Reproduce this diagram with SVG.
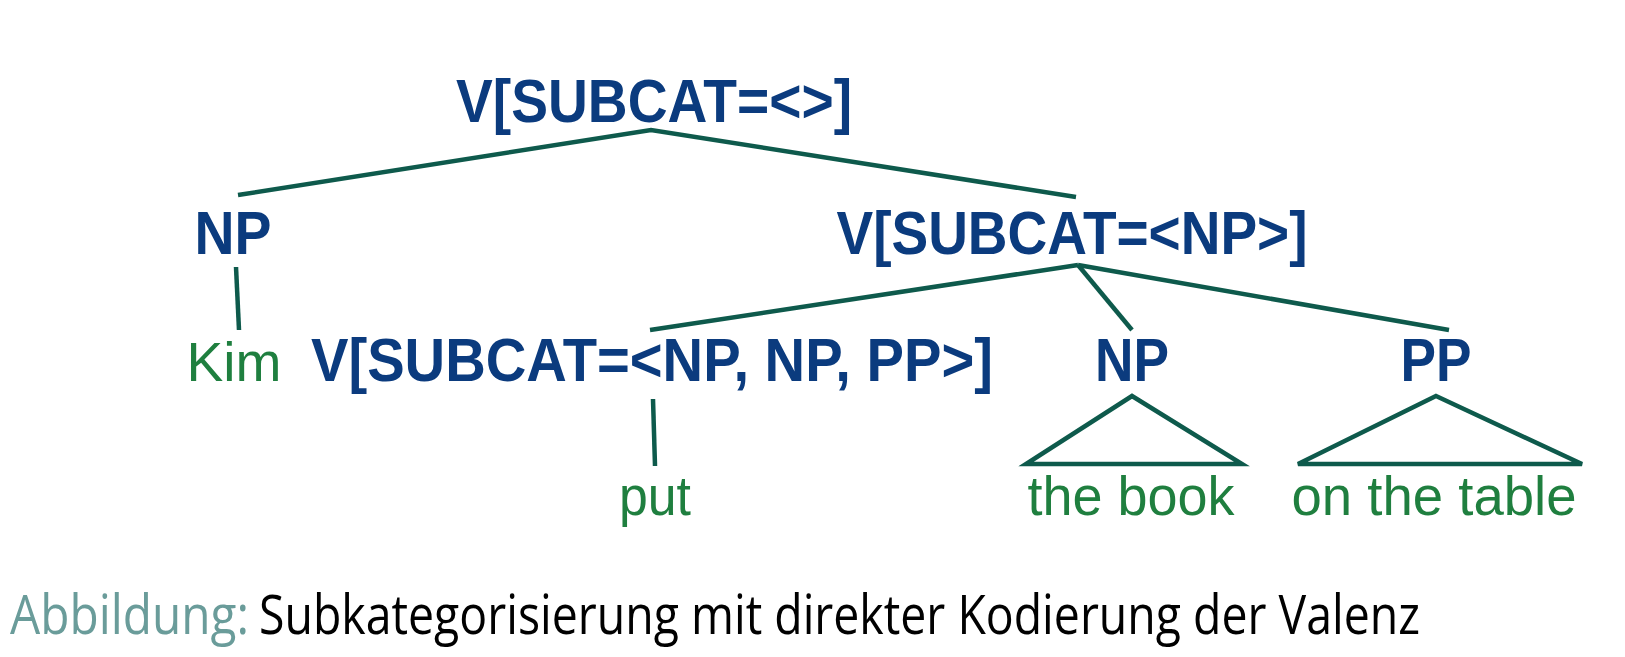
<svg xmlns="http://www.w3.org/2000/svg" width="1625" height="657" viewBox="0 0 1625 657">
<style>
.cat{font-family:"Liberation Sans",Arial,sans-serif;font-weight:bold;font-size:61px;fill:#0b3b7e;text-anchor:middle}
.word{font-family:"Liberation Sans",Arial,sans-serif;font-size:56px;fill:#1f7f3f;text-anchor:middle}
.edge{stroke:#0e5a4c;stroke-width:4.5;fill:none;stroke-linecap:butt}
.cap{font-family:"Open Sans","Noto Sans",sans-serif;font-size:54px}
</style>
<rect width="1625" height="657" fill="#ffffff"/>
<g id="connectors">
<polyline class="edge" points="238,195 651,130 1076,197"/>
<line class="edge" x1="236" y1="267" x2="239" y2="330"/>
<line class="edge" x1="1078" y1="265" x2="650" y2="330"/>
<line class="edge" x1="1078" y1="265" x2="1132" y2="330"/>
<line class="edge" x1="1078" y1="265" x2="1449" y2="330"/>
<line class="edge" x1="653" y1="399" x2="655" y2="466"/>
<polygon class="edge" points="1132,396 1242,464 1026,464"/>
<polygon class="edge" points="1436,396 1582,464 1298,464"/>
</g>
<g id="n-root"><text class="cat" x="654" y="122" textLength="396" lengthAdjust="spacingAndGlyphs">V[SUBCAT=&lt;&gt;]</text></g>
<g id="n-np1"><text class="cat" x="233" y="254" textLength="77" lengthAdjust="spacingAndGlyphs">NP</text></g>
<g id="n-vnp"><text class="cat" x="1072" y="254" textLength="471" lengthAdjust="spacingAndGlyphs">V[SUBCAT=&lt;NP&gt;]</text></g>
<g id="n-kim"><text class="word" x="234" y="381" textLength="95" lengthAdjust="spacingAndGlyphs">Kim</text></g>
<g id="n-v3"><text class="cat" x="652" y="381" textLength="682" lengthAdjust="spacingAndGlyphs">V[SUBCAT=&lt;NP, NP, PP&gt;]</text></g>
<g id="n-np2"><text class="cat" x="1132" y="381" textLength="74" lengthAdjust="spacingAndGlyphs">NP</text></g>
<g id="n-pp"><text class="cat" x="1436" y="381" textLength="71" lengthAdjust="spacingAndGlyphs">PP</text></g>
<g id="n-put"><text class="word" x="655" y="515" textLength="72" lengthAdjust="spacingAndGlyphs">put</text></g>
<g id="n-book"><text class="word" x="1131" y="515" textLength="207" lengthAdjust="spacingAndGlyphs">the book</text></g>
<g id="n-table"><text class="word" x="1434" y="515" textLength="285" lengthAdjust="spacingAndGlyphs">on the table</text></g>
<g id="caption">
<text class="cap" x="10" y="634" fill="#6a9c9a" textLength="239" lengthAdjust="spacingAndGlyphs">Abbildung:</text>
<text class="cap" x="259" y="634" fill="#000000" textLength="1161" lengthAdjust="spacingAndGlyphs">Subkategorisierung mit direkter Kodierung der Valenz</text>
</g>
</svg>
